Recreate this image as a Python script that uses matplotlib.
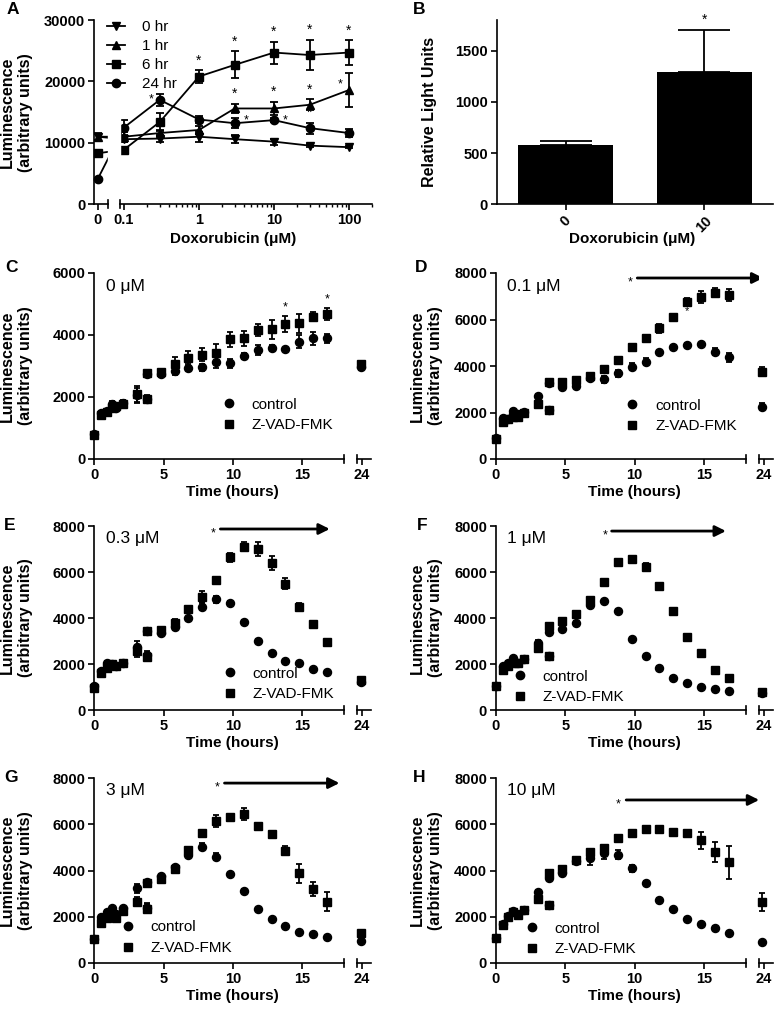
import numpy as np
import matplotlib
matplotlib.use("Agg")
import matplotlib.pyplot as plt
from matplotlib.lines import Line2D
from matplotlib.patches import Rectangle

plt.rcParams['font.family'] = ['Liberation Sans', 'DejaVu Sans']
plt.rcParams['font.weight'] = 'bold'
plt.rcParams['axes.labelweight'] = 'bold'
plt.rcParams['axes.linewidth'] = 1.2
plt.rcParams['xtick.major.width'] = 1.2
plt.rcParams['ytick.major.width'] = 1.2
plt.rcParams['xtick.minor.width'] = 1.0
plt.rcParams['xtick.major.size'] = 4.5
plt.rcParams['ytick.major.size'] = 4.5
plt.rcParams['xtick.minor.size'] = 2.5
plt.rcParams['xtick.major.pad'] = 2
plt.rcParams['ytick.major.pad'] = 2
plt.rcParams['xtick.labelsize'] = 10.5
plt.rcParams['ytick.labelsize'] = 10.5
plt.rcParams['axes.labelsize'] = 11

# ---- panel A : luminescence vs doxorubicin dose
doses = [0, 0.1, 0.3, 1, 3, 10, 30, 100]
hr0 = [11000, 10600, 10700, 11000, 10600, 10200, 9550, 9300]
hr0_err = [600, 400, 500, 800, 700, 500, 200, 150]
hr1 = [11000, 11000, 11600, 12100, 15600, 15600, 16200, 18600]
hr1_err = [500, 800, 500, 600, 800, 1100, 900, 2800]
hr6 = [8300, 8900, 13400, 20800, 22700, 24700, 24300, 24700]
hr6_err = [300, 400, 1500, 1000, 2200, 1800, 2500, 2000]
hr24 = [4100, 12500, 17000, 13800, 13200, 13700, 12400, 11600]
hr24_err = [200, 1200, 1000, 600, 800, 300, 900, 700]

# ---- panel B
b_doses = ['0', '10']
b_vals = [575, 1290]
b_err = [45, 415]

# ---- panels C-H : time courses (3.8 h was read twice)
times = [0, 0.5, 0.9, 1.25, 1.6, 2.05, 3.05, 3.8, 3.8, 4.8, 5.8, 6.8, 7.8, 8.8,
         9.8, 10.8, 11.8, 12.8, 13.8, 14.8, 15.8, 16.8, 23.9]

c_ctrl = [800, 1500, 1550, 1780, 1650, 1820, 2050, 2740, 1930, 2750, 2850, 2950,
          2960, 3140, 3090, 3320, 3520, 3570, 3550, 3790, 3890, 3890, 2960]
c_ctrl_err = [50, 60, 60, 80, 80, 80, 250, 80, 100, 120, 150, 120, 120, 200, 150,
              100, 150, 100, 0, 200, 200, 150, 80]
c_zvad = [780, 1420, 1530, 1650, 1700, 1780, 2100, 2770, 1950, 2800, 3050, 3250,
          3370, 3410, 3860, 3890, 4160, 4180, 4350, 4380, 4590, 4680, 3050]
c_zvad_err = [60, 100, 80, 80, 80, 80, 250, 100, 100, 100, 250, 250, 200, 300,
              250, 250, 200, 300, 250, 300, 150, 200, 100]

d_ctrl = [900, 1750, 1700, 2080, 1950, 2030, 2720, 3280, 2100, 3110, 3150, 3480,
          3430, 3685, 3970, 4190, 4620, 4800, 4900, 4930, 4620, 4370, 2250]
d_ctrl_err = [50, 80, 80, 80, 80, 80, 80, 80, 100, 80, 100, 100, 150, 150, 150,
              150, 80, 80, 80, 80, 150, 200, 150]
d_zvad = [880, 1600, 1700, 1820, 1800, 2000, 2370, 3300, 2100, 3300, 3400, 3580,
          3860, 4260, 4800, 5190, 5620, 6120, 6770, 6980, 7150, 7050, 3760]
d_zvad_err = [60, 80, 80, 100, 80, 80, 100, 80, 100, 80, 80, 100, 150, 100, 100,
              100, 200, 100, 150, 250, 200, 250, 200]

e_ctrl = [1050, 1700, 2050, 2000, 1910, 2060, 2750, 3430, 2400, 3350, 3590, 3985,
          4490, 4810, 4640, 3840, 3000, 2500, 2130, 2030, 1780, 1640, 1200]
e_ctrl_err = [80, 80, 80, 80, 80, 80, 250, 80, 150, 100, 100, 80, 150, 150, 80,
              80, 80, 80, 60, 60, 60, 60, 60]
e_zvad = [950, 1600, 1830, 2000, 1910, 2060, 2550, 3430, 2290, 3480, 3800, 4380,
          4930, 5650, 6640, 7100, 6990, 6400, 5500, 4490, 3720, 2970, 1300]
e_zvad_err = [80, 80, 80, 80, 80, 80, 250, 100, 150, 150, 150, 100, 250, 100,
              200, 200, 300, 300, 250, 150, 150, 100, 100]

f_ctrl = [1040, 1900, 2050, 2250, 2030, 2200, 2900, 3400, 2350, 3510, 3800, 4560,
          4740, 4320, 3100, 2360, 1840, 1400, 1160, 1010, 900, 840, 730]
f_ctrl_err = [60, 60, 60, 60, 60, 60, 150, 60, 80, 60, 60, 60, 60, 60, 60, 60,
              60, 60, 60, 60, 60, 60, 60]
f_zvad = [1040, 1750, 1900, 2050, 2030, 2200, 2700, 3665, 2350, 3870, 4170, 4780,
          5580, 6420, 6550, 6230, 5390, 4300, 3190, 2490, 1740, 1380, 800]
f_zvad_err = [80, 80, 80, 80, 80, 80, 150, 80, 100, 80, 80, 100, 100, 100, 100,
              150, 100, 100, 100, 80, 80, 80, 80]

g_ctrl = [1040, 2000, 2220, 2370, 2120, 2370, 3230, 3500, 2380, 3780, 4170, 4680,
          5030, 4600, 3840, 3120, 2320, 1900, 1600, 1330, 1240, 1110, 965]
g_ctrl_err = [60, 60, 60, 60, 60, 60, 200, 60, 200, 60, 60, 60, 150, 150, 60, 60,
              60, 60, 60, 60, 60, 60, 60]
g_zvad = [1040, 1720, 1935, 2100, 1950, 2250, 2650, 3475, 2350, 3650, 4080, 4900,
          5610, 6150, 6330, 6450, 5940, 5570, 4860, 3880, 3200, 2650, 1310]
g_zvad_err = [80, 80, 80, 80, 80, 80, 200, 100, 200, 80, 80, 100, 100, 250, 80,
              250, 100, 100, 200, 400, 300, 400, 100]

h_ctrl = [1070, 1700, 2050, 2250, 2100, 2290, 3090, 3670, 2500, 3880, 4390, 4530,
          4750, 4680, 4100, 3480, 2730, 2320, 1900, 1680, 1530, 1290, 900]
h_ctrl_err = [70, 70, 70, 70, 70, 70, 80, 80, 80, 80, 80, 300, 250, 200, 150, 70,
              70, 70, 70, 70, 70, 70, 70]
h_zvad = [1070, 1650, 2000, 2220, 2080, 2290, 2760, 3880, 2510, 4060, 4460, 4820,
          4960, 5400, 5640, 5790, 5790, 5660, 5610, 5300, 4800, 4350, 2630]
h_zvad_err = [80, 80, 80, 80, 80, 80, 80, 80, 100, 80, 80, 80, 100, 100, 100, 150,
              100, 100, 150, 350, 450, 700, 400]

W, H = 777, 1009
fig = plt.figure(figsize=(W / 100, H / 100), dpi=100)


def add_px(l, r, t, b):
    # pixel box -> axes
    return fig.add_axes([l / W, 1 - b / H, (r - l) / W, (b - t) / H])


def clean(ax):
    ax.spines['top'].set_visible(False)
    ax.spines['right'].set_visible(False)


def noclip(eb):
    for art in eb.get_children():
        art.set_clip_on(False)


NORMAL = {'weight': 'normal', 'size': 11}
YLAB = 'Luminescence\n(arbitrary units)'

# ===================== A
T0 = 0.07
K = (np.log10(T0) + 1.351) / T0


def fwd(x):
    x = np.asarray(x, float)
    return np.where(x >= T0, np.log10(np.maximum(x, T0)), np.log10(T0) - (T0 - x) * K)


def inv(u):
    u = np.asarray(u, float)
    return np.where(u >= np.log10(T0), 10 ** np.minimum(u, 10), T0 - (np.log10(T0) - u) / K)


axA = add_px(94.3, 372, 20, 204.3)
clean(axA)
axA.spines['bottom'].set_visible(False)
axA.set_xscale('function', functions=(fwd, inv))
handles = []
for vals, errs, mk, lab in [(hr0, hr0_err, 'v', '0 hr'), (hr1, hr1_err, '^', '1 hr'),
                            (hr6, hr6_err, 's', '6 hr'), (hr24, hr24_err, 'o', '24 hr')]:
    eb = axA.errorbar(doses, vals, yerr=errs, marker=mk, color='k', ms=6, lw=1.3,
                      elinewidth=1.3, capsize=3, capthick=1.3)
    noclip(eb)
    handles.append(Line2D([], [], marker=mk, color='k', ms=6, lw=1.3, label=lab))
axA.set_xlim(-0.016, 203)
axA.set_ylim(0, 30000)
axA.set_yticks([0, 10000, 20000, 30000])
axA.set_xticks([0, 0.1, 1, 10, 100])
axA.set_xticklabels(['0', '0.1', '1', '10', '100'])
minor = [m * 10.0 ** e for e in (-1, 0, 1) for m in range(2, 10)] + [200]
axA.set_xticks(minor, minor=True)
axA.tick_params(which='minor', bottom=True)
# axis break
axA.add_patch(Rectangle((0.049, 0.0), 0.0435, 1.0, transform=axA.transAxes,
                        color='white', zorder=3, clip_on=False))
for xs in ([0, 0.049], [0.0925, 1]):
    axA.plot(xs, [0, 0], transform=axA.transAxes, color='k', lw=1.2, clip_on=False, zorder=6)
for xb in (0.049, 0.0925):
    axA.plot([xb, xb], [-0.022, 0.022], transform=axA.transAxes, color='k', lw=1.2,
             clip_on=False, zorder=6)
legA = axA.legend(handles=handles, loc='upper left', bbox_to_anchor=(0.046, 1.0),
                  frameon=False, borderpad=0, borderaxespad=0, handlelength=1.2,
                  handletextpad=1.1, labelspacing=0.33, prop=NORMAL)
legA.set_zorder(5)
axA.set_xlabel('Doxorubicin (\u03bcM)')
axA.xaxis.set_label_coords(0.5, -0.15)
axA.set_ylabel(YLAB, fontsize=11.5, linespacing=1.25)
axA.yaxis.set_label_coords(-0.22, 0.5)


def star(ax, x, y, dx=0, dy=2, size=10, va='bottom'):
    ax.annotate('*', xy=(x, y), xytext=(dx, dy), textcoords='offset points',
                ha='center', va=va, fontsize=size, fontweight='normal',
                annotation_clip=False)


for i in [3, 4, 5, 6, 7]:
    star(axA, doses[i], hr6[i] + hr6_err[i])
for i in [4, 5, 6]:
    star(axA, doses[i], hr1[i] + hr1_err[i])
star(axA, doses[6], hr24[6] + hr24_err[6])
star(axA, 0.3, 17000, dx=-6, dy=0, size=9, va='center')
star(axA, 3, 13700, dx=8, dy=0, size=9, va='center')
star(axA, 10, 13700, dx=8, dy=0, size=9, va='center')
star(axA, 100, 19500, dx=-6, dy=0, size=9, va='center')

# ===================== B
axB = add_px(497, 773, 20, 204.3)
clean(axB)
xpos = np.arange(len(b_doses))
axB.bar(xpos, b_vals, width=0.686, color='k', zorder=2)
eb = axB.errorbar(xpos, b_vals, yerr=[np.zeros(len(b_err)), b_err], fmt='none',
                  ecolor='k', elinewidth=1.3, capsize=19, capthick=1.3, zorder=1)
axB.set_xlim(-0.495, 1.498)
axB.set_ylim(0, 1800)
axB.set_yticks([0, 500, 1000, 1500])
axB.set_xticks(xpos)
axB.set_xticklabels(b_doses, rotation=45, ha='center')
star(axB, xpos[1], b_vals[1] + b_err[1], dy=2, size=10)
axB.set_xlabel('Doxorubicin (\u03bcM)')
axB.xaxis.set_label_coords(0.49, -0.15)
axB.set_ylabel('Relative Light Units', fontsize=11.5)
axB.yaxis.set_label_coords(-0.217, 0.5)


# ===================== C-H
def time_panel(l, t, b, ctrl, ctrl_err, zvad, zvad_err, ymax, yticks, conc,
               leg_xy, ylab_x, arrow=None, extra_stars=()):
    r = l + 250
    ax = add_px(l, r, t, b)
    axs = add_px(r + 13, r + 27, t, b)
    clean(ax)
    for s in ('left', 'top', 'right'):
        axs.spines[s].set_visible(False)
    tt = np.array(times)
    for vals, errs, mk in [(ctrl, ctrl_err, 'o'), (zvad, zvad_err, 's')]:
        vals = np.array(vals)
        errs = np.array(errs)
        for a, m in [(ax, tt < 20), (axs, tt > 20)]:
            eb = a.errorbar(tt[m], vals[m], yerr=errs[m], fmt=mk, color='k', ms=5.8,
                            elinewidth=1.3, capsize=2.5, capthick=1.3)
            noclip(eb)
    for a in (ax, axs):
        a.set_ylim(0, ymax)
    ax.set_xlim(0, 18.05)
    axs.set_xlim(23.66, 24.67)
    ax.set_xticks([0, 5, 10, 15])
    axs.set_xticks([24])
    axs.set_yticks([])
    ax.set_yticks(yticks)
    hh = 8.0 / (b - t)
    ax.plot([1, 1], [-hh / 2, hh / 2], transform=ax.transAxes, color='k', lw=1.2, clip_on=False)
    axs.plot([0, 0], [-hh / 2, hh / 2], transform=axs.transAxes, color='k', lw=1.2, clip_on=False)
    ax.set_xlabel('Time (hours)')
    ax.xaxis.set_label_coords(0.554, -0.14)
    ax.set_ylabel(YLAB, fontsize=11.5, linespacing=1.25)
    ax.yaxis.set_label_coords(ylab_x, 0.5)
    ax.text(0.045, 0.93, conc, transform=ax.transAxes, fontsize=12.5, fontweight='normal',
            ha='left', va='center')
    hl = [Line2D([], [], marker='o', ls='none', color='k', ms=6),
          Line2D([], [], marker='s', ls='none', color='k', ms=6)]
    ax.legend(hl, ['control', 'Z-VAD-FMK'], loc='upper left', bbox_to_anchor=leg_xy,
              frameon=False, borderpad=0, borderaxespad=0, handlelength=1.0,
              handletextpad=1.0, labelspacing=0.45, prop=NORMAL)
    if arrow is not None:
        st, a0, a1, ya = arrow
        ax.annotate('', xy=(a1, ya), xytext=(a0, ya),
                    arrowprops=dict(arrowstyle='-|>', lw=2, color='k', mutation_scale=16,
                                    shrinkA=0, shrinkB=0),
                    annotation_clip=False)
        star(ax, st, ya, dy=-3, size=9, va='center')
    for (sx, sy) in extra_stars:
        star(ax, sx, sy, dy=2, size=9)
    return ax


time_panel(94.3, 273, 459, c_ctrl, c_ctrl_err, c_zvad, c_zvad_err, 6000,
           [0, 2000, 4000, 6000], '0 \u03bcM', (0.508, 0.33), -0.244,
           extra_stars=[(13.8, 4600), (16.8, 4880)])
axD = time_panel(496, 273, 459, d_ctrl, d_ctrl_err, d_zvad, d_zvad_err, 8000,
                 [0, 2000, 4000, 6000, 8000], '0.1 \u03bcM', (0.514, 0.325), -0.211,
                 arrow=(9.7, 10.2, 19.3, 7785))
star(axD, 13.8, 6550, dy=-3, size=8, va='center')
time_panel(94.3, 526, 710, e_ctrl, e_ctrl_err, e_zvad, e_zvad_err, 8000,
           [0, 2000, 4000, 6000, 8000], '0.3 \u03bcM', (0.512, 0.236), -0.244,
           arrow=(8.6, 9.1, 17.0, 7870))
time_panel(496, 526, 710, f_ctrl, f_ctrl_err, f_zvad, f_zvad_err, 8000,
           [0, 2000, 4000, 6000, 8000], '1 \u03bcM', (0.064, 0.22), -0.211,
           arrow=(7.85, 8.35, 16.6, 7780))
time_panel(94.3, 778, 963, g_ctrl, g_ctrl_err, g_zvad, g_zvad_err, 8000,
           [0, 2000, 4000, 6000, 8000], '3 \u03bcM', (0.104, 0.23), -0.244,
           arrow=(8.85, 9.4, 17.7, 7780))
time_panel(496, 778, 963, h_ctrl, h_ctrl_err, h_zvad, h_zvad_err, 8000,
           [0, 2000, 4000, 6000, 8000], '10 \u03bcM', (0.112, 0.224), -0.211,
           arrow=(8.8, 9.4, 19.0, 7050))

for letter, x, y in [('A', 7, 10), ('B', 413, 10), ('C', 5, 268), ('D', 415, 268),
                     ('E', 4, 526), ('F', 417, 526), ('G', 4, 778), ('H', 413, 778)]:
    fig.text(x / W, 1 - y / H, letter, fontsize=12.5, fontweight='bold', ha='left', va='center')

fig.savefig('out.png', dpi=100)
